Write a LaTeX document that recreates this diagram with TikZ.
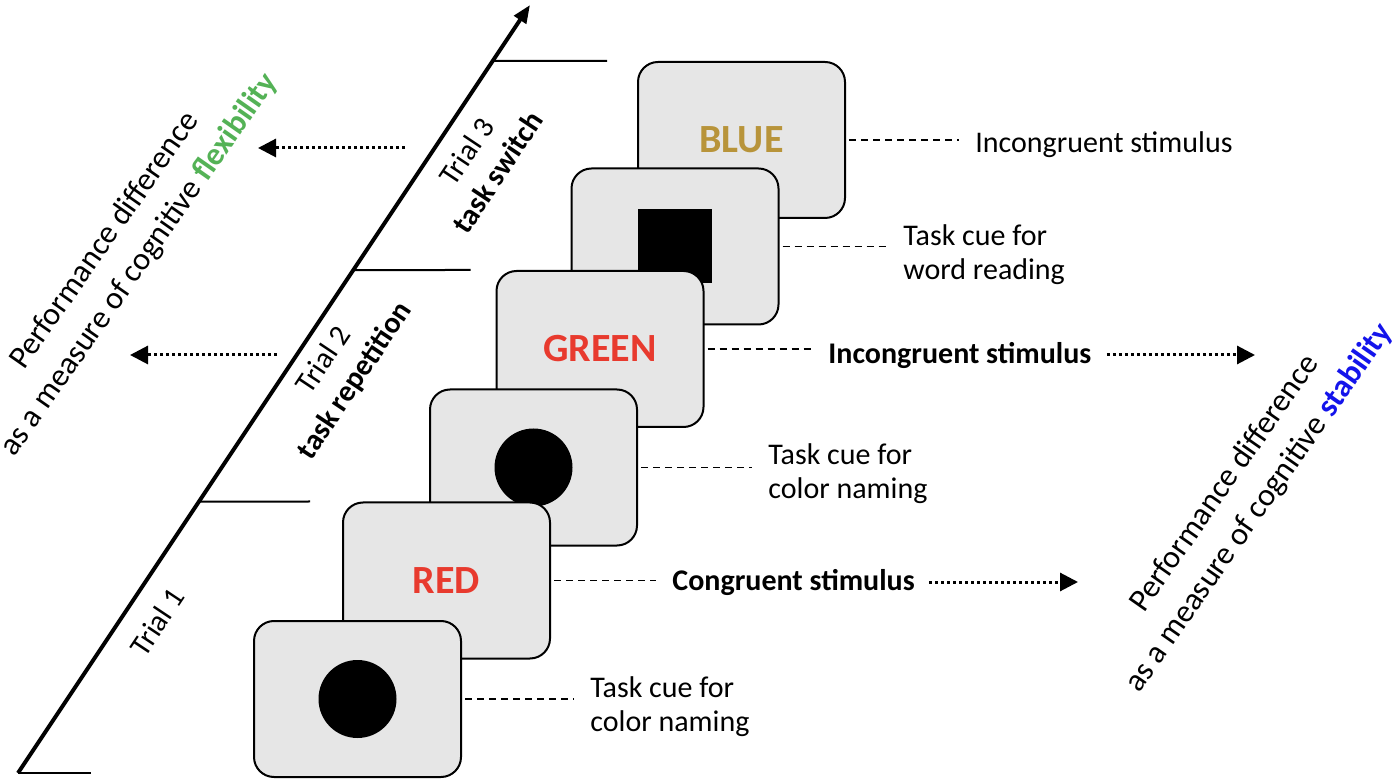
\documentclass[tikz,border=0pt]{standalone}
\usepackage{fontspec}
\setmainfont{Carlito}
\usetikzlibrary{arrows.meta}

\definecolor{cardgray}{RGB}{230,230,230}
\definecolor{wordred}{RGB}{232,58,46}
\definecolor{wordgold}{RGB}{184,148,58}
\definecolor{flexgreen}{RGB}{84,178,86}
\definecolor{stabblue}{RGB}{20,20,235}

\begin{document}
\begin{tikzpicture}[x=0.5pt,y=-0.5pt]
  \useasboundingbox (0,0) rectangle (1395,779);

  \tikzset{card/.style={draw, line width=1pt, fill=cardgray, rounded corners=10pt,
      minimum width=103.5pt, minimum height=78pt, inner sep=0pt,
      font=\fontsize{20}{24}\selectfont\bfseries}}
  \tikzset{cue/.style={fill=black, inner sep=0pt}}
  \tikzset{lab/.style={anchor=west, inner sep=0pt, align=left, font=\fontsize{15}{17}\selectfont}}
  \tikzset{perf/.style={align=center, inner sep=0pt, font=\fontsize{16}{21}\selectfont}}
  \tikzset{trial/.style={align=center, inner sep=0pt, rotate=56.3, font=\fontsize{15}{18.5}\selectfont}}

  % cards, back to front
  \node[card, text=wordgold] (c6) at (741.5,140) {BLUE};
  \node[card] (c5) at (675,246.5) {};
  \node[cue, minimum size=37pt] (sq5) at (c5) {};
  \node[card, text=wordred] (c4) at (600,349) {GREEN};
  \node[card] (c3) at (533.5,467.5) {};
  \node[cue, circle, minimum size=39pt] (dot3) at (c3) {};
  \node[card, text=wordred] (c2) at (446.5,580.5) {RED};
  \node[card] (c1) at (357.5,699) {};
  \node[cue, circle, minimum size=39pt] (dot1) at (c1) {};

  % time axis
  \coordinate (o) at (18,773);
  \coordinate (top) at (530,5);
  \draw[line width=2pt, -{Triangle[length=9pt,width=7pt]}] (o) -- (top);
  \draw[line width=1pt] (o) -- ++(73,0);
  \draw[line width=1pt] (intersection of o--top and c2.north west--c2.north east) -- ([xshift=-16pt]c2.north west);
  \draw[line width=1pt] (intersection of o--top and c4.north west--c4.north east) -- ([xshift=-12.5pt]c4.north west);
  \draw[line width=1pt] (intersection of o--top and c6.north west--c6.north east) -- ([xshift=-15pt]c6.north west);

  \node[trial] (t1) at (157,622) {Trial 1};
  \node[trial] (t2) at (340,371) {Trial 2\\\textbf{task repetition}};
  \node[trial] (t3) at (482,162) {Trial 3\\\textbf{task switch}};

  % labels on the right
  \node[lab] (l6) at (975,145) {Incongruent stimulus};
  \node[lab] (l5) at (903,255) {Task cue for\\word reading};
  \node[lab, font=\fontsize{15}{17}\selectfont\bfseries] (l4) at (828,355) {Incongruent stimulus};
  \node[lab] (l3) at (768,474) {Task cue for\\color naming};
  \node[lab, font=\fontsize{15}{17}\selectfont\bfseries] (l2) at (672,582) {Congruent stimulus};
  \node[lab] (l1) at (590,707) {Task cue for\\color naming};

  \tikzset{leader/.style={line width=0.65pt, dash pattern=on 3.5pt off 2.5pt, shorten <=1.5pt, shorten >=8pt}}
  \draw[leader] (c6.east) -- (c6.east -| l6.west);
  \draw[leader] (c5.east) -- (c5.east -| l5.west);
  \draw[leader] (c4.east) -- (c4.east -| l4.west);
  \draw[leader] (c3.east) -- (c3.east -| l3.west);
  \draw[leader] (c2.east) -- (c2.east -| l2.west);
  \draw[leader] (c1.east) -- (c1.east -| l1.west);

  \node[perf, rotate=55] (flex) at (122,253) {Performance difference\\as a measure of cognitive \textcolor{flexgreen}{\bfseries flexibility}};
  \node[perf, rotate=55] (stab) at (1242,496) {Performance difference\\as a measure of cognitive \textcolor{stabblue}{\bfseries stability}};

  \tikzset{dotarrow/.style={line width=1.5pt, dash pattern=on 1.5pt off 1.5pt, -{Triangle[length=9pt,width=9pt]}}}
  \coordinate (g4) at (1255,355);
  \coordinate (g2) at (1078,582);
  \coordinate (f3s) at (405,148);
  \coordinate (f3e) at (258,148);
  \coordinate (f2s) at (277,355);
  \coordinate (f2e) at (130,355);
  \draw[dotarrow, shorten <=7.5pt] (l4.east) -- (g4);
  \draw[dotarrow, shorten <=7pt] (l2.east) -- (g2);
  \draw[dotarrow] (f3s) -- (f3e);
  \draw[dotarrow] (f2s) -- (f2e);
\end{tikzpicture}
\end{document}
